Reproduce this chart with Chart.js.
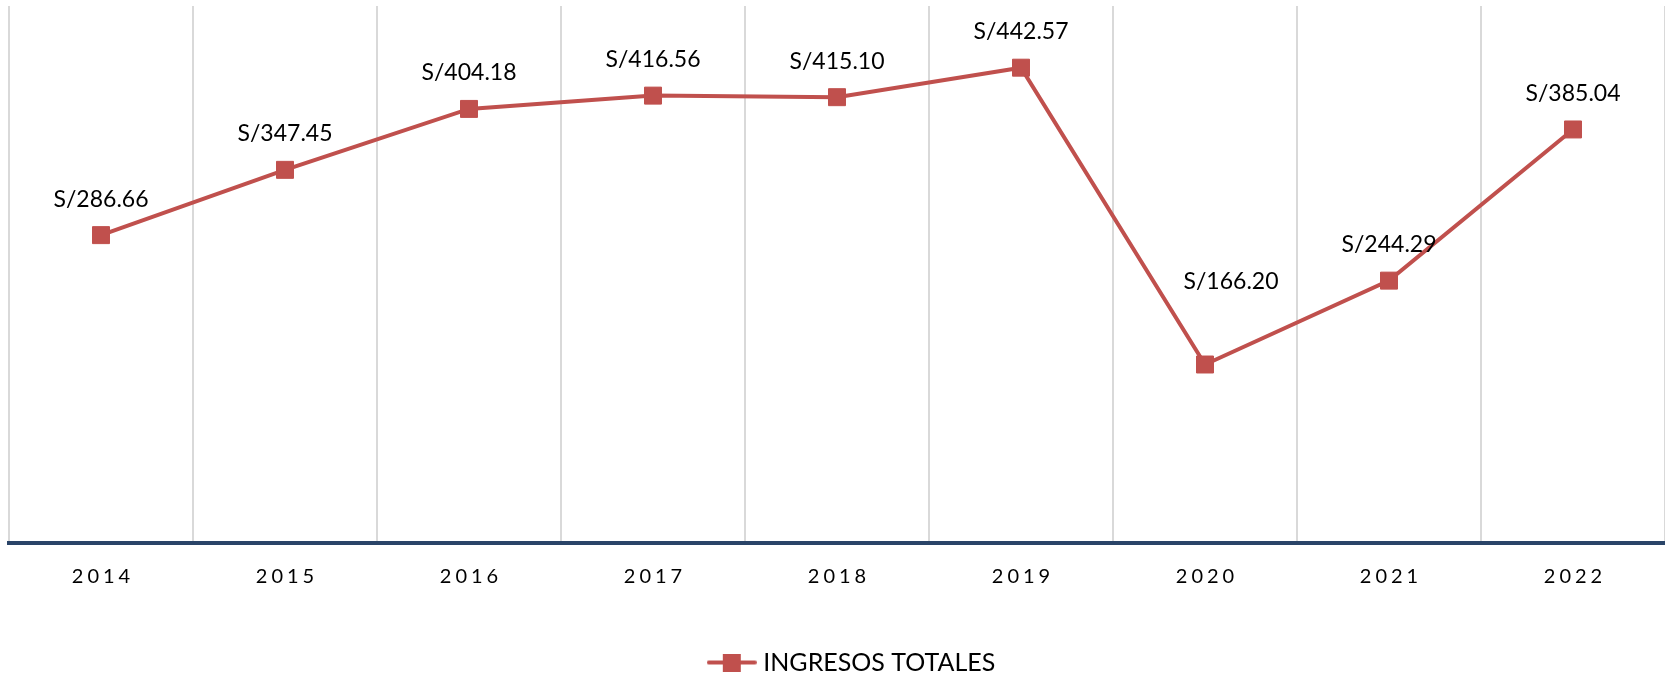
<!DOCTYPE html>
<html>
<head>
<meta charset="utf-8">
<script src="https://cdn.jsdelivr.net/npm/chart.js@4/dist/chart.umd.min.js"></script>
<style>
  html, body { margin: 0; padding: 0; background: #fff; }
  #wrap { width: 1665px; height: 676px; }
</style>
</head>
<body>
<div id="wrap"><canvas id="chart"></canvas></div>
<script>
const years = ['2014', '2015', '2016', '2017', '2018', '2019', '2020', '2021', '2022'];
const ingresos = [286.66, 347.45, 404.18, 416.56, 415.10, 442.57, 166.20, 244.29, 385.04];
const serieNombre = 'INGRESOS TOTALES';

const rojo = '#C0504D';
const fuente = 'Lato, "Open Sans", sans-serif';

// marcador de la leyenda: línea con cuadrado al medio
function legendMarker() {
    const c = document.createElement('canvas');
    c.width = 50; c.height = 18;
    const g = c.getContext('2d');
    g.strokeStyle = rojo;
    g.lineWidth = 4;
    g.lineCap = 'round';
    g.beginPath();
    g.moveTo(2, 9); g.lineTo(48, 9);
    g.stroke();
    g.fillStyle = rojo;
    g.fillRect(16, 0, 18, 18);
    return c;
}

// etiquetas de datos encima de cada punto
const dataLabels = {
    id: 'dataLabels',
    afterDatasetsDraw(chart, args, opts) {
        const ctx = chart.ctx;
        const meta = chart.getDatasetMeta(0);
        ctx.save();
        ctx.font = '23px ' + fuente;
        ctx.fillStyle = '#000';
        ctx.textAlign = 'center';
        ctx.textBaseline = 'middle';
        meta.data.forEach((pt, i) => {
            const off = (opts.offsets && opts.offsets[i]) || [0, -36];
            const v = chart.data.datasets[0].data[i];
            ctx.fillText('S/' + v.toFixed(2), pt.x + off[0], pt.y + off[1]);
        });
        ctx.restore();
    }
};

// espaciado entre letras para los años del eje y leyenda algo a la derecha
const ajustes = {
    id: 'ajustes',
    afterLayout(chart) {
        const sc = chart.scales.x;
        if (!sc._spaced) {
            const orig = sc.drawLabels.bind(sc);
            sc.drawLabels = function (area) {
                this.ctx.save();
                this.ctx.letterSpacing = '4px';
                this.ctx.translate(2, 0);
                orig(area);
                this.ctx.restore();
            };
            sc._spaced = true;
        }
        const lg = chart.legend;
        if (lg && !lg._moved) {
            const origDraw = lg.draw.bind(lg);
            lg.draw = function () {
                this.ctx.save();
                this.ctx.translate(17, 0);
                origDraw();
                this.ctx.restore();
            };
            lg._moved = true;
        }
    }
};

const ctx = document.getElementById('chart').getContext('2d');
const chart = new Chart(ctx, {
    type: 'line',
    data: {
        labels: years,
        datasets: [{
            label: serieNombre,
            data: ingresos,
            borderColor: rojo,
            backgroundColor: rojo,
            borderWidth: 4,
            pointStyle: 'rect',
            pointRadius: 12,
            pointBorderWidth: 1,
            pointBackgroundColor: rojo,
            pointBorderColor: rojo,
            tension: 0
        }]
    },
    options: {
        responsive: true,
        maintainAspectRatio: false,
        animation: false,
        layout: { autoPadding: false, padding: { top: 6, left: 9, right: 0, bottom: -9 } },
        scales: {
            x: {
                offset: true,
                grid: { color: '#d9d9d9', lineWidth: 2, offset: true, drawTicks: false },
                border: { display: true, color: '#2A4468', width: 4 },
                ticks: {
                    color: '#000',
                    padding: 22,
                    font: { family: fuente, size: 20 }
                },
                afterFit(scale) { scale.height += 39; }
            },
            y: {
                display: false,
                min: 0,
                max: 500
            }
        },
        plugins: {
            legend: {
                position: 'bottom',
                labels: {
                    usePointStyle: true,
                    pointStyle: legendMarker(),
                    pointStyleWidth: 38,
                    boxHeight: 18,
                    color: '#000',
                    padding: 0,
                    font: { family: fuente, size: 25 }
                }
            },
            tooltip: { enabled: false },
            dataLabels: {
                offsets: { 6: [26, -83] }
            }
        }
    },
    plugins: [dataLabels, ajustes]
});
</script>
</body>
</html>
